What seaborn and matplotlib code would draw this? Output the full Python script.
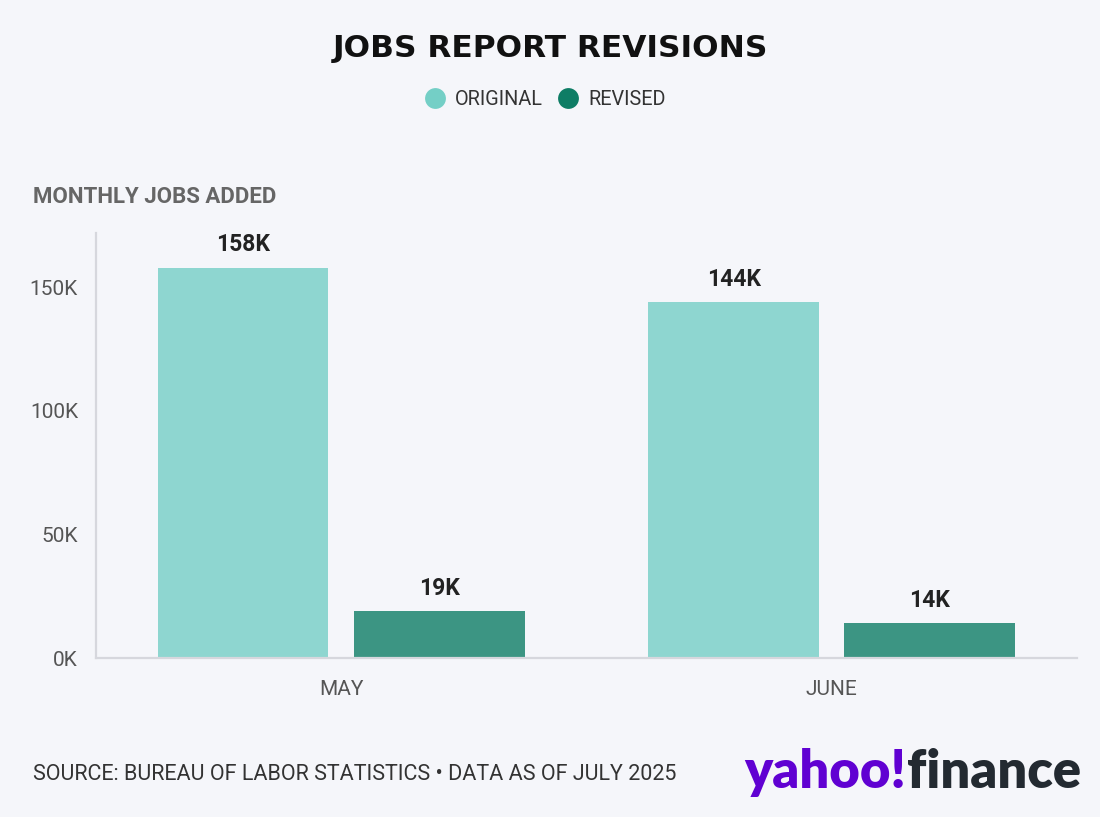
import pandas as pd
import matplotlib.pyplot as plt
import seaborn as sns
from matplotlib.lines import Line2D
from matplotlib.ticker import FuncFormatter

# valores em milhares de empregos
meses = ["MAY", "JUNE"]
series = ["ORIGINAL", "REVISED"]
original = [158, 144]
revisado = [19, 14]
yticks = [0, 50, 100, 150]

cores = {"ORIGINAL": "#74cfc6", "REVISED": "#0e7d65"}
fundo = "#f5f6fa"

df = pd.DataFrame({
    "mes": meses * 2,
    "serie": ["ORIGINAL"] * len(meses) + ["REVISED"] * len(meses),
    "valor": original + revisado,
})

sns.set_theme(style="white")
plt.rcParams["font.family"] = ["Roboto", "DejaVu Sans"]

fig = plt.figure(figsize=(11, 8.17), dpi=100, facecolor=fundo)
ax = fig.add_axes([0.0873, 0.1946, 0.8917, 0.5202])
ax.set_facecolor(fundo)

sns.barplot(data=df, x="mes", y="valor", hue="serie", order=meses, hue_order=series,
            palette=cores, saturation=1, alpha=0.8, width=0.8, gap=0.13, legend=False,
            ax=ax, edgecolor="none", linewidth=0)

for cont in ax.containers:
    vals = [b.get_height() for b in cont]
    ax.bar_label(cont, labels=[f"{v:.0f}K" for v in vals], padding=8,
                 fontsize=16.5, fontweight="bold", color="#222222")

ax.set_xlim(-0.5, 1.5)
ax.set_ylim(0, 172)
ax.set_yticks(yticks)
ax.yaxis.set_major_formatter(FuncFormatter(lambda v, p: f"{v:.0f}K"))
ax.set_xlabel("")
ax.set_ylabel("")

for lado in ["top", "right"]:
    ax.spines[lado].set_visible(False)
for lado in ["left", "bottom"]:
    ax.spines[lado].set_color("#d6d7dd")
    ax.spines[lado].set_linewidth(1.6)
ax.tick_params(axis="both", colors="#d6d7dd", width=1.4, length=8, labelsize=15,
               labelcolor="#555555")
ax.tick_params(axis="y", pad=5)
ax.tick_params(axis="x", pad=8)

fig.text(0.5, 0.941, "JOBS REPORT REVISIONS", ha="center", va="center",
         fontsize=22.5, fontweight="heavy", color="#111111", family=["DejaVu Sans"])

handles = [Line2D([0], [0], marker="o", linestyle="none", markersize=15,
                  markerfacecolor=cores[s], markeredgecolor="none") for s in series]
fig.legend(handles, series, loc="center", bbox_to_anchor=(0.491, 0.878), ncol=2,
           frameon=False, fontsize=14.3, labelcolor="#333333", handletextpad=0.0,
           columnspacing=0.3)

fig.text(0.030, 0.759, "MONTHLY JOBS ADDED", ha="left", va="center",
         fontsize=16, fontweight="bold", color="#666666")

fig.text(0.030, 0.052, "SOURCE: BUREAU OF LABOR STATISTICS \u2022 DATA AS OF JULY 2025",
         ha="left", va="center", fontsize=15.5, color="#333333")

yahoo = fig.text(0.677, 0.054, "yahoo!", ha="left", va="center", fontsize=37.8,
                 fontweight="heavy", color="#6001d2", family=["Lato", "DejaVu Sans"])
fig.canvas.draw()
bb = yahoo.get_window_extent().transformed(fig.transFigure.inverted())
fig.text(bb.x1, 0.054, "finance", ha="left", va="center", fontsize=37.8,
         fontweight="heavy", color="#232a31", family=["Lato", "DejaVu Sans"])

fig.savefig("out.png", dpi=100, facecolor=fundo)
